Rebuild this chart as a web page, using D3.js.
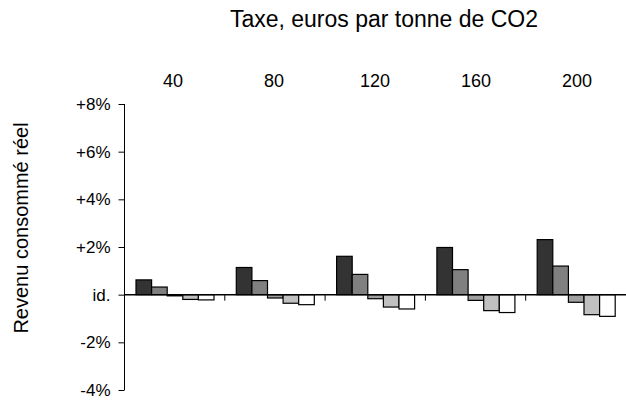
<!DOCTYPE html>
<html><head><meta charset="utf-8">
<script src="https://cdn.jsdelivr.net/npm/d3@7"></script>
<style>body{margin:0;background:#fff}text{font-family:"Liberation Sans",Arial,sans-serif;fill:#000}</style>
</head><body>
<script>
const categories = ["40","80","120","160","200"];
const s1 = [0.62, 1.14, 1.61, 1.98, 2.31];
const s2 = [0.32, 0.59, 0.85, 1.05, 1.20];
const s3 = [-0.05, -0.14, -0.17, -0.24, -0.32];
const s4 = [-0.20, -0.36, -0.52, -0.67, -0.84];
const s5 = [-0.22, -0.42, -0.60, -0.75, -0.91];
const seriesColors = ["#333333","#808080","#9f9f9f","#c0c0c0","#ffffff"];
const yTicks = [-4,-2,0,2,4,6,8];
const yTickLabels = ["-4%","-2%","id.","+2%","+4%","+6%","+8%"];
const title = "Taxe, euros par tonne de CO2";
const yTitle = "Revenu consommé réel";

const W=626,H=406;
const svg=d3.select("body").append("svg").attr("width",W).attr("height",H);
const x0=d3.scaleBand().domain(categories).range([124.5,626]).padding(0);
const x1=d3.scaleBand().domain(d3.range(5)).range([11.5,89.5]).padding(0);
const xl=d3.scalePoint().domain(categories).range([173,577]);
const y=d3.scaleLinear().domain([-4,8]).range([390,104]);
const series=[s1,s2,s3,s4,s5];

svg.append("text").attr("x",384).attr("y",27).attr("text-anchor","middle").attr("font-size",23).text(title);
svg.append("text").attr("transform","translate(28,228) rotate(-90)").attr("text-anchor","middle").attr("font-size",20).text(yTitle);

svg.selectAll(".cat").data(categories).join("text").attr("class","cat")
  .attr("x",d=>xl(d)).attr("y",87).attr("text-anchor","middle").attr("font-size",18).text(d=>d);

const g=svg.selectAll(".grp").data(categories).join("g").attr("transform",d=>`translate(${x0(d)},0)`);
g.selectAll("rect").data((d,i)=>series.map((s,k)=>({k,v:s[i]}))).join("rect")
  .attr("x",d=>x1(d.k)).attr("width",x1.bandwidth())
  .attr("y",d=>y(Math.max(0,d.v))).attr("height",d=>Math.abs(y(d.v)-y(0)))
  .attr("fill",d=>seriesColors[d.k]).attr("stroke","#000").attr("stroke-width",1.2);

const yAxis=d3.axisLeft(y).tickValues(yTicks).tickSize(6).tickPadding(8).tickFormat((d,i)=>yTickLabels[i]);
const ya=svg.append("g").attr("transform","translate(124.5,0)").call(yAxis);
ya.select(".domain").attr("d","M0,104V390").attr("stroke","#000");
ya.selectAll(".tick line").attr("stroke","#000");
ya.selectAll(".tick text").attr("font-size",17).attr("font-family","Liberation Sans, Arial, sans-serif").attr("fill","#000");

const xa=svg.append("g").attr("transform",`translate(0,${y(0)})`).call(d3.axisBottom(x0).tickSize(0).tickFormat(""));
xa.select(".domain").attr("d",`M124.5,0H626`).attr("stroke","#000").attr("stroke-width",1.5);
svg.selectAll(".gt").data(categories.slice(1)).join("line").attr("class","gt")
  .attr("x1",d=>x0(d)).attr("x2",d=>x0(d)).attr("y1",y(0)).attr("y2",y(0)+6).attr("stroke","#000");
</script>
</body></html>
